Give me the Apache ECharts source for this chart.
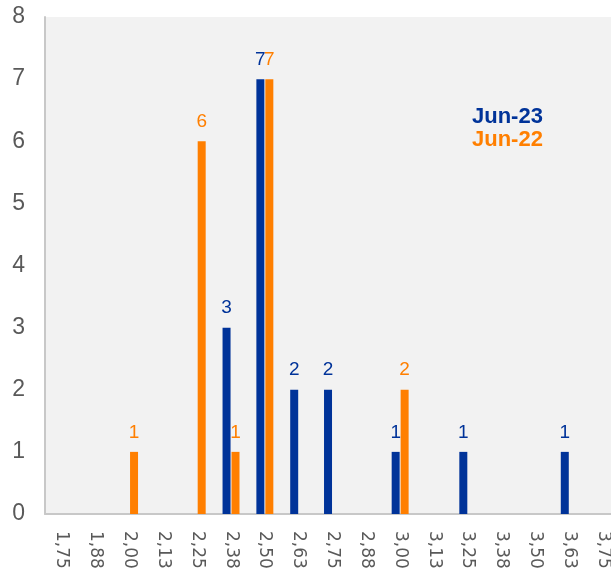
<!DOCTYPE html>
<html><head><meta charset="utf-8">
<script src="https://cdn.jsdelivr.net/npm/echarts@6/dist/echarts.min.js"></script>
<style>html,body{margin:0;padding:0;background:#fff}#c{width:611px;height:576px}</style>
</head><body><div id="c"></div>
<script>
const categories = ['1,75','1,88','2,00','2,13','2,25','2,38','2,50','2,63','2,75','2,88','3,00','3,13','3,25','3,38','3,50','3,63','3,75'];
const jun23 = [null,null,null,null,null,3,7,2,2,null,1,null,1,null,null,1,null];
const jun22 = [null,null,1,null,6,1,7,null,null,null,2,null,null,null,null,null,null];
const yTicks = [0,1,2,3,4,5,6,7,8];
const BLUE = '#003399', ORANGE = '#FF7F00';
const chart = echarts.init(document.getElementById('c'));
chart.setOption({
  animation: false,
  grid: {left: 45, top: 17, width: 575, height: 497, show: true, backgroundColor: '#f2f2f2', borderWidth: 0,
    containLabel: false, outerBoundsMode: 'none'},
  legend: {
    orient: 'vertical', left: 462, top: 101, icon: 'none', itemGap: 1, itemWidth: 0, itemHeight: 14,
    selectedMode: false,
    textStyle: {fontFamily: 'Liberation Sans, Arial', fontSize: 22, fontWeight: 'bold', lineHeight: 22},
    data: [
      {name: 'Jun-23', textStyle: {color: BLUE}},
      {name: 'Jun-22', textStyle: {color: ORANGE}}
    ]
  },
  xAxis: {
    type: 'category', data: categories,
    axisLine: {show: true, lineStyle: {color: '#c8c8c8', width: 2}},
    axisTick: {show: false},
    axisLabel: {rotate: -90, color: '#595959', fontSize: 17, fontFamily: 'DejaVu Sans', margin: 17, interval: 0}
  },
  yAxis: {
    type: 'value', min: 0, max: 8, interval: 1,
    axisLine: {show: true, lineStyle: {color: '#c8c8c8', width: 2}},
    axisTick: {show: false},
    splitLine: {show: false},
    axisLabel: {color: '#595959', fontSize: 23, fontFamily: 'Liberation Sans, Arial', margin: 20,
      formatter: v => yTicks.includes(v) ? String(v) : ''}
  },
  series: [
    {name: 'Jun-23', type: 'bar', data: jun23, barWidth: 8, barGap: '12%',
      itemStyle: {color: BLUE},
      label: {show: true, position: 'top', distance: 10, color: BLUE, fontSize: 19, fontFamily: 'Liberation Sans, Arial'}},
    {name: 'Jun-22', type: 'bar', data: jun22, barWidth: 8, barGap: '12%',
      itemStyle: {color: ORANGE},
      label: {show: true, position: 'top', distance: 10, color: ORANGE, fontSize: 19, fontFamily: 'Liberation Sans, Arial'}}
  ]
});
</script></body></html>
